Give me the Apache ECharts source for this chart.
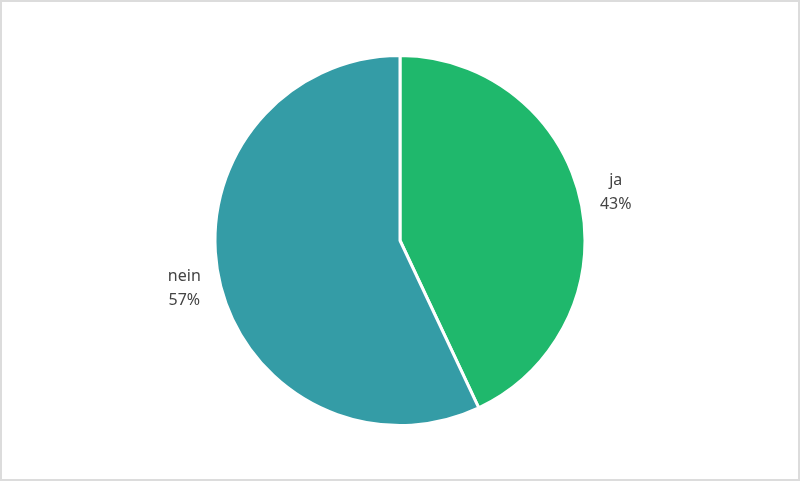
<!DOCTYPE html>
<html>
<head>
<meta charset="utf-8">
<script src="https://cdn.jsdelivr.net/npm/echarts@6/dist/echarts.min.js"></script>
<style>
html,body{margin:0;padding:0;background:#fff;}
#wrap{width:800px;height:481px;box-sizing:border-box;border:2px solid #dcdcdc;}
#chart{width:100%;height:100%;}
</style>
</head>
<body>
<div id="wrap"><div id="chart"></div></div>
<script>
const categories = ['ja', 'nein'];
const values = [43, 57];
const colors = ['#1fb86c', '#349ca6'];

const data = categories.map((c, i) => ({ name: c, value: values[i], itemStyle: { color: colors[i] } }));
const labelData = categories.map((c, i) => ({ name: c, value: values[i] }));

const chart = echarts.init(document.getElementById('chart'), null, { renderer: 'canvas' });
chart.setOption({
  animation: false,
  series: [
    {
      type: 'pie',
      center: ['50%', '50%'],
      radius: [0, 185],
      startAngle: 90,
      clockwise: true,
      silent: true,
      itemStyle: { borderColor: '#ffffff', borderWidth: 3 },
      label: { show: false },
      labelLine: { show: false },
      data: data
    },
    {
      type: 'pie',
      center: ['50%', '50%'],
      radius: [185, 251],
      startAngle: 90,
      clockwise: true,
      silent: true,
      itemStyle: { color: 'rgba(0,0,0,0)', borderWidth: 0 },
      label: {
        show: true,
        position: 'inside',
        formatter: '{b}\n{d}%',
        fontFamily: 'Noto Sans',
        fontSize: 16,
        lineHeight: 24,
        color: '#444444',
        align: 'center'
      },
      labelLine: { show: false },
      data: labelData
    }
  ]
});
</script>
</body>
</html>
